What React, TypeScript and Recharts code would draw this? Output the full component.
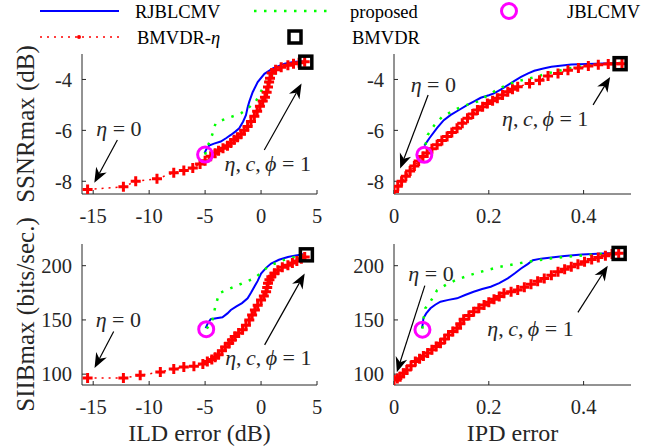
import React from "react";
import {
  ComposedChart,
  Line,
  Scatter,
  XAxis,
  YAxis,
  ReferenceLine,
  ReferenceDot,
} from "recharts";

// tick labels
const ildTicks = [-15, -10, -5, 0, 5];
const ipdTicks = [0, 0.2, 0.4];
const ssnrTicks = [-8, -6, -4];
const siibTicks = [100, 150, 200];

// SSNR vs ILD error
const ssnrIldBmvdrEta = [
  [-15.5, -8.32], [-12.3, -8.22], [-11.2, -8.0], [-9.3, -7.9], [-7.8, -7.67], [-6.9, -7.58],
  [-6.1, -7.48], [-5.45, -7.32], [-5.0, -7.19], [-4.5, -7.02], [-4.1, -6.9], [-3.8, -6.8],
  [-3.4, -6.7], [-3.0, -6.6], [-2.7, -6.5], [-2.4, -6.37], [-2.1, -6.27], [-1.8, -6.15],
  [-1.5, -6.0], [-1.2, -5.85], [-0.9, -5.65], [-0.6, -5.45], [-0.35, -5.25], [-0.1, -5.05],
  [0.15, -4.85], [0.35, -4.7], [0.5, -4.5], [0.62, -4.3], [0.72, -4.1], [0.8, -3.95],
  [0.95, -3.75], [1.3, -3.62], [1.8, -3.52], [2.4, -3.44], [2.9, -3.38], [3.4, -3.34], [3.9, -3.3],
];
const ssnrIldRjblcmv = [
  [-5.05, -6.9], [-4.9, -6.75], [-4.65, -6.6], [-4.2, -6.52], [-3.6, -6.44], [-3.1, -6.3],
  [-2.7, -6.18], [-2.3, -6.05], [-1.95, -5.92], [-1.6, -5.65], [-1.35, -5.4], [-1.2, -5.1],
  [-1.05, -4.87], [-0.75, -4.5], [-0.3, -4.1], [0.3, -3.78], [1.05, -3.57], [2.1, -3.38],
  [3.0, -3.3], [3.8, -3.29],
];
const ssnrIldProposed = [
  [-5.0, -6.95], [-4.75, -6.6], [-4.5, -6.35], [-4.35, -6.15], [-4.2, -5.9], [-4.05, -5.72],
  [-3.6, -5.62], [-3.0, -5.52], [-2.4, -5.43], [-1.8, -5.33], [-1.2, -5.15], [-0.8, -4.98],
  [-0.45, -4.85], [-0.1, -4.55], [0.2, -4.3], [0.5, -4.05], [0.9, -3.83], [1.4, -3.65],
  [2.0, -3.5], [3.0, -3.34], [3.8, -3.3],
];
const ssnrIldJblcmv = [[-5.0, -6.95]];
const ssnrIldBmvdr = [[4.0, -3.32]];

// SSNR vs IPD error
const ssnrIpdBmvdrEta = [
  [0, -8.4], [0.008, -8.2], [0.016, -8.0], [0.025, -7.8], [0.034, -7.6], [0.043, -7.4],
  [0.052, -7.2], [0.061, -7.03], [0.07, -6.89], [0.08, -6.72], [0.091, -6.57], [0.101, -6.4],
  [0.112, -6.24], [0.122, -6.08], [0.133, -5.92], [0.144, -5.72], [0.155, -5.52], [0.166, -5.36],
  [0.176, -5.2], [0.187, -5.07], [0.197, -4.94], [0.208, -4.84], [0.218, -4.74], [0.229, -4.61],
  [0.24, -4.48], [0.25, -4.38], [0.261, -4.29], [0.286, -4.16], [0.307, -4.03], [0.325, -3.86],
  [0.346, -3.77], [0.367, -3.64], [0.389, -3.55], [0.41, -3.47], [0.431, -3.42], [0.452, -3.39],
  [0.466, -3.38], [0.481, -3.38],
];
const ssnrIpdRjblcmv = [
  [0.064, -6.6], [0.075, -6.3], [0.091, -5.9], [0.105, -5.6], [0.119, -5.4], [0.137, -5.2],
  [0.155, -5.0], [0.17, -4.85], [0.183, -4.72], [0.2, -4.62], [0.211, -4.55], [0.225, -4.4],
  [0.24, -4.22], [0.255, -4.05], [0.268, -3.9], [0.283, -3.76], [0.296, -3.66], [0.315, -3.57],
  [0.332, -3.5], [0.355, -3.45], [0.374, -3.41], [0.424, -3.38], [0.481, -3.35],
];
const ssnrIpdProposed = [
  [0.062, -6.95], [0.065, -6.7], [0.071, -6.18], [0.085, -5.8], [0.101, -5.48], [0.12, -5.28],
  [0.14, -5.09], [0.158, -4.97], [0.176, -4.87], [0.2, -4.6], [0.222, -4.35], [0.247, -4.16],
  [0.265, -4.05], [0.286, -3.96], [0.308, -3.85], [0.329, -3.74], [0.35, -3.65], [0.374, -3.55],
  [0.4, -3.48], [0.424, -3.42], [0.45, -3.38], [0.481, -3.35],
];
const ssnrIpdJblcmv = [[0.064, -6.96]];
const ssnrIpdBmvdr = [[0.477, -3.38]];

// SIIB vs ILD error
const siibIldBmvdrEta = [
  [-15.5, 96.5], [-12.3, 96.5], [-10.8, 98.9], [-9.0, 102], [-7.8, 104.8], [-6.9, 106.6],
  [-6.0, 107.2], [-5.2, 109.4], [-4.8, 111.7], [-4.4, 113.5], [-4.1, 115.5], [-3.8, 118],
  [-3.5, 121.5], [-3.2, 125], [-2.85, 128.6], [-2.6, 131.5], [-2.35, 134.7], [-2.0, 138],
  [-1.65, 141], [-1.35, 145], [-1.05, 150], [-0.8, 154.5], [-0.55, 159.2], [-0.3, 163.5],
  [0, 168.3], [0.25, 172], [0.45, 176], [0.55, 180], [0.62, 183.7], [0.75, 187], [0.92, 189.7],
  [1.2, 193], [1.5, 195.9], [1.9, 198.5], [2.4, 200.5], [2.8, 202.5], [3.2, 204.4], [3.6, 206.5],
  [3.9, 208],
];
const siibIldRjblcmv = [
  [-4.95, 142.4], [-4.75, 147], [-4.5, 150.6], [-4.0, 151.5], [-3.45, 152.5], [-3.0, 156],
  [-2.7, 159.2], [-2.2, 162.5], [-1.7, 165.5], [-1.2, 169.9], [-0.9, 175], [-0.6, 180.6],
  [-0.3, 186], [0.0, 192.8], [0.45, 198], [0.9, 202], [1.6, 205.5], [2.4, 208], [3.1, 209.5],
  [3.8, 210.5],
];
const siibIldProposed = [
  [-4.85, 142], [-4.55, 146], [-4.35, 150], [-4.2, 157], [-4.05, 163.8], [-3.9, 169],
  [-3.75, 174.5], [-3.2, 177], [-2.4, 180.6], [-1.5, 184.5], [-0.6, 188.3], [0.0, 193.5],
  [0.6, 198.9], [1.2, 201.8], [1.8, 204.4], [2.4, 206.5], [3.0, 208], [3.8, 209.5],
];
const siibIldJblcmv = [[-4.9, 141.5]];
const siibIldBmvdr = [[4.05, 210]];

// SIIB vs IPD error
const siibIpdBmvdrEta = [
  [0, 94.6], [0.007, 96], [0.013, 97.7], [0.02, 100.8], [0.027, 103.8], [0.036, 107.8],
  [0.045, 111.7], [0.054, 114.3], [0.062, 116.8], [0.071, 119.6], [0.08, 122.4], [0.089, 125.5],
  [0.098, 128.6], [0.107, 132.4], [0.115, 136.2], [0.124, 139.3], [0.133, 142.4], [0.14, 146.5],
  [0.147, 150.6], [0.158, 154], [0.168, 157.6], [0.179, 160.7], [0.19, 163.8], [0.2, 166.4],
  [0.211, 169], [0.222, 171.7], [0.232, 174.5], [0.247, 176], [0.261, 177.5], [0.275, 180.2],
  [0.289, 182.9], [0.303, 185.6], [0.317, 188.3], [0.332, 191.3], [0.346, 194.4], [0.36, 196.7],
  [0.374, 199], [0.388, 201.3], [0.402, 203.6], [0.417, 205.6], [0.431, 207.6], [0.446, 209.2],
  [0.46, 210.7], [0.474, 211.5],
];
const siibIpdRjblcmv = [
  [0.059, 142.4], [0.061, 147], [0.062, 151.5], [0.068, 156], [0.077, 160.7], [0.087, 164],
  [0.098, 166.8], [0.115, 168.5], [0.133, 169.9], [0.15, 173], [0.168, 176], [0.186, 178.5],
  [0.204, 180.6], [0.222, 184], [0.24, 188.3], [0.255, 193], [0.268, 197.4], [0.282, 201.5],
  [0.293, 205], [0.31, 206.5], [0.332, 207.6], [0.36, 209], [0.396, 210.4], [0.474, 211.9],
];
const siibIpdProposed = [
  [0.06, 142], [0.062, 150], [0.066, 160.7], [0.077, 167], [0.091, 177.5], [0.11, 182.5],
  [0.13, 186.7], [0.153, 190.3], [0.176, 193.5], [0.197, 196], [0.218, 198.4], [0.24, 200.3],
  [0.261, 202], [0.282, 203.6], [0.303, 205], [0.33, 206.6], [0.36, 208], [0.39, 209.2],
  [0.424, 210.4], [0.474, 212],
];
const siibIpdJblcmv = [[0.06, 141]];
const siibIpdBmvdr = [[0.475, 211.3]];

// annotation anchors (data coords): text centre, arrow tail, arrow tip
const ssnrIldNotes = { zero: [-12.7, -5.9], zeroArrow: [[-12.84, -6.38], [-14.9, -8.06]], one: [0.6, -7.3], oneArrow: [[0.29, -6.77], [3.62, -4.16]] };
const ssnrIpdNotes = { zero: [0.083, -4.16], zeroArrow: [[0.072, -4.61], [0.013, -7.5]], one: [0.319, -5.5], oneArrow: [[0.42, -5.0], [0.456, -3.9]] };
const siibIldNotes = { zero: [-12.75, 150.9], zeroArrow: [[-13.17, 139.3], [-14.88, 105.7]], one: [0.65, 115.6], oneArrow: [[0.32, 127], [3.9, 192.8]] };
const siibIpdNotes = { zero: [0.078, 193], zeroArrow: [[0.065, 181.6], [0.006, 101.8]], one: [0.288, 142.5], oneArrow: [[0.388, 157], [0.451, 200]] };

const FONT = "'Liberation Serif', 'Times New Roman', serif";
const AX = "#262626";
const RED = "#ff0000";
const BLUE = "#0000ff";
const GREEN = "#00ff00";
const MAGENTA = "#ff00ff";

const toPts = (a: number[][]) => a.map(([x, y]) => ({ x, y }));

const plusDot = (p: any) => {
  const { cx, cy, index } = p;
  if (cx == null || cy == null) return <g key={index} />;
  return (
    <path
      key={index}
      d={`M${cx - 5},${cy}H${cx + 5}M${cx},${cy - 5}V${cy + 5}`}
      stroke={RED}
      strokeWidth={3}
      fill="none"
    />
  );
};

const circleShape = (p: any) => (
  <circle cx={p.cx} cy={p.cy} r={7.5} fill="none" stroke={MAGENTA} strokeWidth={3} />
);

const squareShape = (p: any) => (
  <rect x={p.cx - 6} y={p.cy - 6} width={12} height={12} fill="none" stroke="#000" strokeWidth={3.5} />
);

const arrowShape = (p: any) => {
  const { x1, y1, x2, y2 } = p;
  const dx = x2 - x1;
  const dy = y2 - y1;
  const len = Math.hypot(dx, dy) || 1;
  const ux = dx / len;
  const uy = dy / len;
  const hl = 15;
  const hw = 6;
  const bx = x2 - ux * hl;
  const by = y2 - uy * hl;
  const nx = x2 - ux * hl * 0.7;
  const ny = y2 - uy * hl * 0.7;
  return (
    <g>
      <line x1={x1} y1={y1} x2={nx} y2={ny} stroke="#000" strokeWidth={1.2} />
      <polygon
        points={`${x2},${y2} ${bx - uy * hw},${by + ux * hw} ${nx},${ny} ${bx + uy * hw},${by - ux * hw}`}
        fill="#000"
      />
    </g>
  );
};

const noteText = (kind: "zero" | "one") => (p: any) => (
  <text
    x={p.cx}
    y={p.cy}
    textAnchor="middle"
    dominantBaseline="central"
    fontFamily={FONT}
    fontSize={22}
    fill={AX}
  >
    {kind === "zero" ? (
      <>
        <tspan fontStyle="italic">η</tspan>
        <tspan>{"\u00a0=\u00a00"}</tspan>
      </>
    ) : (
      <>
        <tspan fontStyle="italic">η</tspan>
        <tspan>{",\u2009"}</tspan>
        <tspan fontStyle="italic">c</tspan>
        <tspan>{",\u2009"}</tspan>
        <tspan fontStyle="italic">ϕ</tspan>
        <tspan>{"\u00a0=\u00a01"}</tspan>
      </>
    )}
  </text>
);

const tickStyle = { fill: AX, fontSize: 20.5, fontFamily: FONT };
const labelStyle = { fill: AX, fontSize: 24, fontFamily: FONT };

interface PanelProps {
  left: number;
  top: number;
  width: number;
  height: number;
  marginTop: number;
  marginRight: number;
  yWidth: number;
  xHeight: number;
  xDomain: [number, number];
  xTicks: number[];
  yDomain: [number, number];
  yTicks: number[];
  red: number[][];
  blue: number[][];
  green: number[][];
  circle: number[][];
  square: number[][];
  notes: typeof ssnrIldNotes;
  xLabel?: string;
  yLabel?: string;
}

const Panel: React.FC<PanelProps> = (p) => {
  const seg = (s: number[][]) => [
    { x: s[0][0], y: s[0][1] },
    { x: s[1][0], y: s[1][1] },
  ];
  return (
    <div style={{ position: "absolute", left: p.left, top: p.top }}>
      <ComposedChart
        width={p.width}
        height={p.height}
        margin={{ top: p.marginTop, right: p.marginRight, bottom: 0, left: 0 }}
      >
        <XAxis
          type="number"
          dataKey="x"
          domain={p.xDomain}
          ticks={p.xTicks}
          interval={0}
          allowDataOverflow
          height={p.xHeight}
          stroke={AX}
          tickSize={-4}
          tickMargin={18}
          tick={tickStyle}
          label={
            p.xLabel
              ? { value: p.xLabel, position: "insideBottom", offset: 5, style: labelStyle }
              : undefined
          }
        />
        <XAxis
          xAxisId="top"
          orientation="top"
          type="number"
          dataKey="x"
          domain={p.xDomain}
          ticks={p.xTicks}
          interval={0}
          allowDataOverflow
          height={0}
          stroke={AX}
          tickSize={-4}
          tick={false}
        />
        <YAxis
          type="number"
          dataKey="y"
          domain={p.yDomain}
          ticks={p.yTicks}
          interval={0}
          allowDataOverflow
          width={p.yWidth}
          stroke={AX}
          tickSize={-4}
          tickMargin={14}
          tick={tickStyle}
          label={
            p.yLabel
              ? {
                  value: p.yLabel,
                  angle: -90,
                  position: "insideLeft",
                  offset: 25,
                  style: { ...labelStyle, fontSize: 25, textAnchor: "middle" },
                }
              : undefined
          }
        />
        <YAxis
          yAxisId="right"
          orientation="right"
          type="number"
          dataKey="y"
          domain={p.yDomain}
          ticks={p.yTicks}
          interval={0}
          allowDataOverflow
          width={0}
          stroke={AX}
          tickSize={-4}
          tick={false}
        />
        <Line
          data={toPts(p.red)}
          dataKey="y"
          stroke={RED}
          strokeWidth={1.5}
          strokeDasharray="2 5"
          dot={plusDot}
          activeDot={false}
          isAnimationActive={false}
        />
        <Line
          data={toPts(p.blue)}
          dataKey="y"
          stroke={BLUE}
          strokeWidth={2}
          dot={false}
          activeDot={false}
          isAnimationActive={false}
        />
        <Line
          data={toPts(p.green)}
          dataKey="y"
          stroke={GREEN}
          strokeWidth={2.5}
          strokeDasharray="2.5 7.5"
          dot={false}
          activeDot={false}
          isAnimationActive={false}
        />
        <Scatter data={toPts(p.circle)} shape={circleShape} isAnimationActive={false} />
        <Scatter data={toPts(p.square)} shape={squareShape} isAnimationActive={false} />
        <ReferenceLine segment={seg(p.notes.zeroArrow)} ifOverflow="visible" shape={arrowShape} />
        <ReferenceLine segment={seg(p.notes.oneArrow)} ifOverflow="visible" shape={arrowShape} />
        <ReferenceDot
          x={p.notes.zero[0]}
          y={p.notes.zero[1]}
          r={0}
          ifOverflow="visible"
          shape={noteText("zero")}
        />
        <ReferenceDot
          x={p.notes.one[0]}
          y={p.notes.one[1]}
          r={0}
          ifOverflow="visible"
          shape={noteText("one")}
        />
      </ComposedChart>
    </div>
  );
};

const Legend: React.FC = () => (
  <svg
    width={654}
    height={52}
    style={{ position: "absolute", left: 0, top: 0 }}
    fontFamily={FONT}
    fontSize={18.5}
    fill="#000"
  >
    <line x1={40} y1={11} x2={119} y2={11} stroke={BLUE} strokeWidth={2} />
    <text x={135} y={17.5}>RJBLCMV</text>
    <line x1={254} y1={11} x2={333} y2={11} stroke={GREEN} strokeWidth={2.5} strokeDasharray="2.5 7.5" />
    <text x={350} y={17.5}>proposed</text>
    <circle cx={509} cy={11} r={7.5} fill="none" stroke={MAGENTA} strokeWidth={3} />
    <text x={567} y={17.5}>JBLCMV</text>

    <line x1={40} y1={37} x2={119} y2={37} stroke={RED} strokeWidth={1.5} strokeDasharray="2 5" />
    <circle cx={79} cy={37} r={2} fill={RED} />
    <text x={137} y={43.5}>
      BMVDR-<tspan fontStyle="italic">η</tspan>
    </text>
    <rect x={289} y={31} width={12} height={12} fill="none" stroke="#000" strokeWidth={3.5} />
    <text x={352} y={43.5}>BMVDR</text>
  </svg>
);

export default function App() {
  return (
    <div
      style={{
        position: "absolute",
        left: 0,
        top: 0,
        width: 654,
        height: 446,
        background: "#fff",
        overflow: "hidden",
      }}
    >
      <Legend />
      <Panel
        left={0}
        top={0}
        width={330}
        height={234}
        marginTop={54}
        marginRight={13}
        yWidth={82}
        xHeight={40}
        xDomain={[-16, 5]}
        xTicks={ildTicks}
        yDomain={[-8.5, -3]}
        yTicks={ssnrTicks}
        red={ssnrIldBmvdrEta}
        blue={ssnrIldRjblcmv}
        green={ssnrIldProposed}
        circle={ssnrIldJblcmv}
        square={ssnrIldBmvdr}
        notes={ssnrIldNotes}
        yLabel="SSNRmax (dB)"
      />
      <Panel
        left={334}
        top={0}
        width={320}
        height={234}
        marginTop={54}
        marginRight={23}
        yWidth={60}
        xHeight={40}
        xDomain={[0, 0.5]}
        xTicks={ipdTicks}
        yDomain={[-8.5, -3]}
        yTicks={ssnrTicks}
        red={ssnrIpdBmvdrEta}
        blue={ssnrIpdRjblcmv}
        green={ssnrIpdProposed}
        circle={ssnrIpdJblcmv}
        square={ssnrIpdBmvdr}
        notes={ssnrIpdNotes}
      />
      <Panel
        left={0}
        top={200}
        width={330}
        height={246}
        marginTop={44}
        marginRight={13}
        yWidth={82}
        xHeight={61}
        xDomain={[-16, 5]}
        xTicks={ildTicks}
        yDomain={[90, 220]}
        yTicks={siibTicks}
        red={siibIldBmvdrEta}
        blue={siibIldRjblcmv}
        green={siibIldProposed}
        circle={siibIldJblcmv}
        square={siibIldBmvdr}
        notes={siibIldNotes}
        xLabel="ILD error (dB)"
        yLabel="SIIBmax (bits/sec.)"
      />
      <Panel
        left={334}
        top={200}
        width={320}
        height={246}
        marginTop={44}
        marginRight={23}
        yWidth={60}
        xHeight={61}
        xDomain={[0, 0.5]}
        xTicks={ipdTicks}
        yDomain={[90, 220]}
        yTicks={siibTicks}
        red={siibIpdBmvdrEta}
        blue={siibIpdRjblcmv}
        green={siibIpdProposed}
        circle={siibIpdJblcmv}
        square={siibIpdBmvdr}
        notes={siibIpdNotes}
        xLabel="IPD error"
      />
    </div>
  );
}
